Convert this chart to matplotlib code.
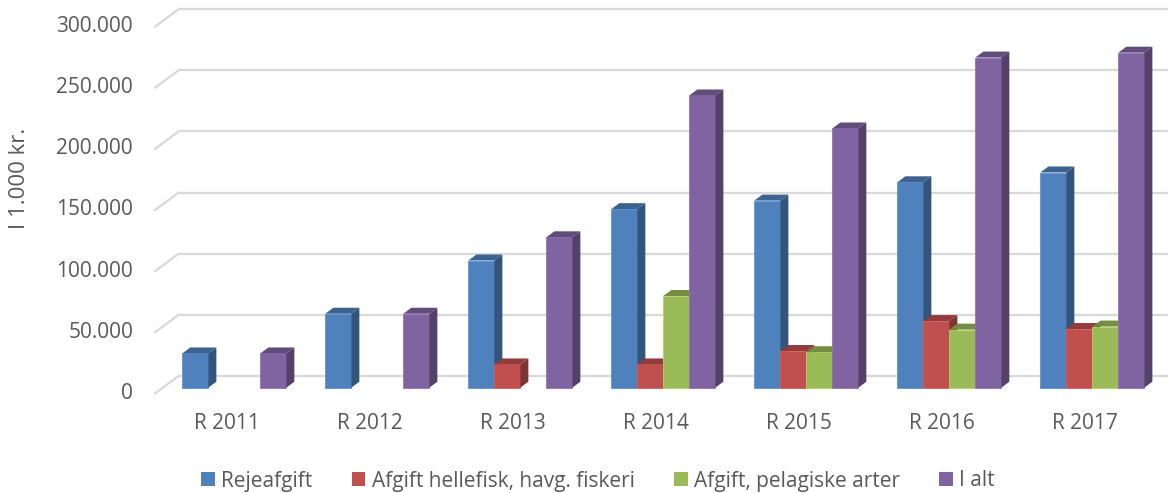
import matplotlib
matplotlib.use('Agg')
import matplotlib.pyplot as plt
from matplotlib.patches import Polygon, Rectangle
from matplotlib.transforms import ScaledTranslation
from matplotlib.colors import to_rgb

# data (1.000 kr.)
years = ['R 2011', 'R 2012', 'R 2013', 'R 2014', 'R 2015', 'R 2016', 'R 2017']
series_names = ['Rejeafgift', 'Afgift hellefisk, havg. fiskeri', 'Afgift, pelagiske arter', 'I alt']
rejeafgift = [28, 60.5, 104, 146, 153, 168, 176]
hellefisk = [0, 0, 19, 19, 30, 54.5, 48]
pelagiske = [0, 0, 0, 75, 29, 47.5, 50]
i_alt = [28, 60.5, 123, 239, 212, 270, 274]
yticks = [0, 50, 100, 150, 200, 250, 300]

colors = ['#4f81bd', '#c0504d', '#9bbb59', '#8064a2']
values = [rejeafgift, hellefisk, pelagiske, i_alt]

plt.rcParams['font.family'] = ['Open Sans', 'DejaVu Sans']
TXT = '#595959'
GRID = '#d9d9d9'

W, H = 1168, 493
fig = plt.figure(figsize=(W / 100, H / 100), dpi=100)
ax = fig.add_axes([0, 0, 1, 1])
ax.axis('off')

# pixel layout of the front plane
X0_PX, STEP_PX = 226.7, 143.0
Y0_PX, KPX = 393.3, 1.2227
ax.set_xlim(-X0_PX / STEP_PX, (W - X0_PX) / STEP_PX)
ax.set_ylim(-(H - Y0_PX) / KPX, Y0_PX / KPX)

SLANT = 1.35
D_FRONT, D_BAR0, D_BAR1, D_BACK = 0, 5.6, 11.6, 17.3
WALL_X = -0.5


def pt(x, y, d):
    px, py = ax.transData.transform((x, y))
    return ax.transData.inverted().transform((px + SLANT * d, py + d))


def depth(d):
    return ax.transData + ScaledTranslation(SLANT * d / 100, d / 100, fig.dpi_scale_trans)


def shade(c, f):
    r, g, b = to_rgb(c)
    return (min(r * f, 1), min(g * f, 1), min(b * f, 1))


# gridlines: back wall + left diagonal
for v in yticks:
    ax.plot([WALL_X, len(years) + 0.2], [v, v], color=GRID, lw=1.6,
            transform=depth(D_BACK), zorder=1, solid_capstyle='butt')
    a = pt(WALL_X, v, D_FRONT)
    b = pt(WALL_X, v, D_BACK)
    ax.plot([a[0], b[0]], [a[1], b[1]], color=GRID, lw=1.6, zorder=1)
    lab = f'{v * 1000:,}'.replace(',', '.')
    ax.text(-93.6 / STEP_PX, v, lab, ha='right', va='center', fontsize=15, color=TXT)

# bars
w = 26 / STEP_PX
xs = list(range(len(years)))
for k, (vals, c) in enumerate(zip(values, colors)):
    off = (k - 1.5) * w
    ax.bar([x + off for x in xs], vals, w, color=c, edgecolor=shade(c, 1.15),
           linewidth=[0.6 if v > 0 else 0 for v in vals],
           transform=depth(D_BAR0), zorder=2)
    for x, v in zip(xs, vals):
        if v <= 0:
            continue
        x0, x1 = x + off - w / 2, x + off + w / 2
        side = [pt(x1, 0, D_BAR0), pt(x1, v, D_BAR0), pt(x1, v, D_BAR1), pt(x1, 0, D_BAR1)]
        top = [pt(x0, v, D_BAR0), pt(x1, v, D_BAR0), pt(x1, v, D_BAR1), pt(x0, v, D_BAR1)]
        ax.add_patch(Polygon(side, closed=True, facecolor=shade(c, 0.65), edgecolor='none', zorder=2))
        ax.add_patch(Polygon(top, closed=True, facecolor=shade(c, 0.76), edgecolor='none', zorder=2))

# category labels
for x, lab in zip(xs, years):
    ax.text(x, -24.5, lab, ha='center', va='center', fontsize=15, color=TXT)

# y axis title
fig.text(20 / W, 1 - 178 / H, 'I 1.000 kr.', rotation=90, ha='center', va='center',
         fontsize=16, color=TXT)

# legend
handles = [Rectangle((0, 0), 1, 1, facecolor=c) for c in colors]
fig.legend(handles, series_names, loc='center', bbox_to_anchor=(598 / W, 1 - 481 / H),
           ncol=4, frameon=False, fontsize=15, labelcolor=TXT, handlelength=0.65,
           handleheight=0.65, handletextpad=0.3, columnspacing=1.9, borderpad=0)

fig.savefig('out.png', dpi=100)
